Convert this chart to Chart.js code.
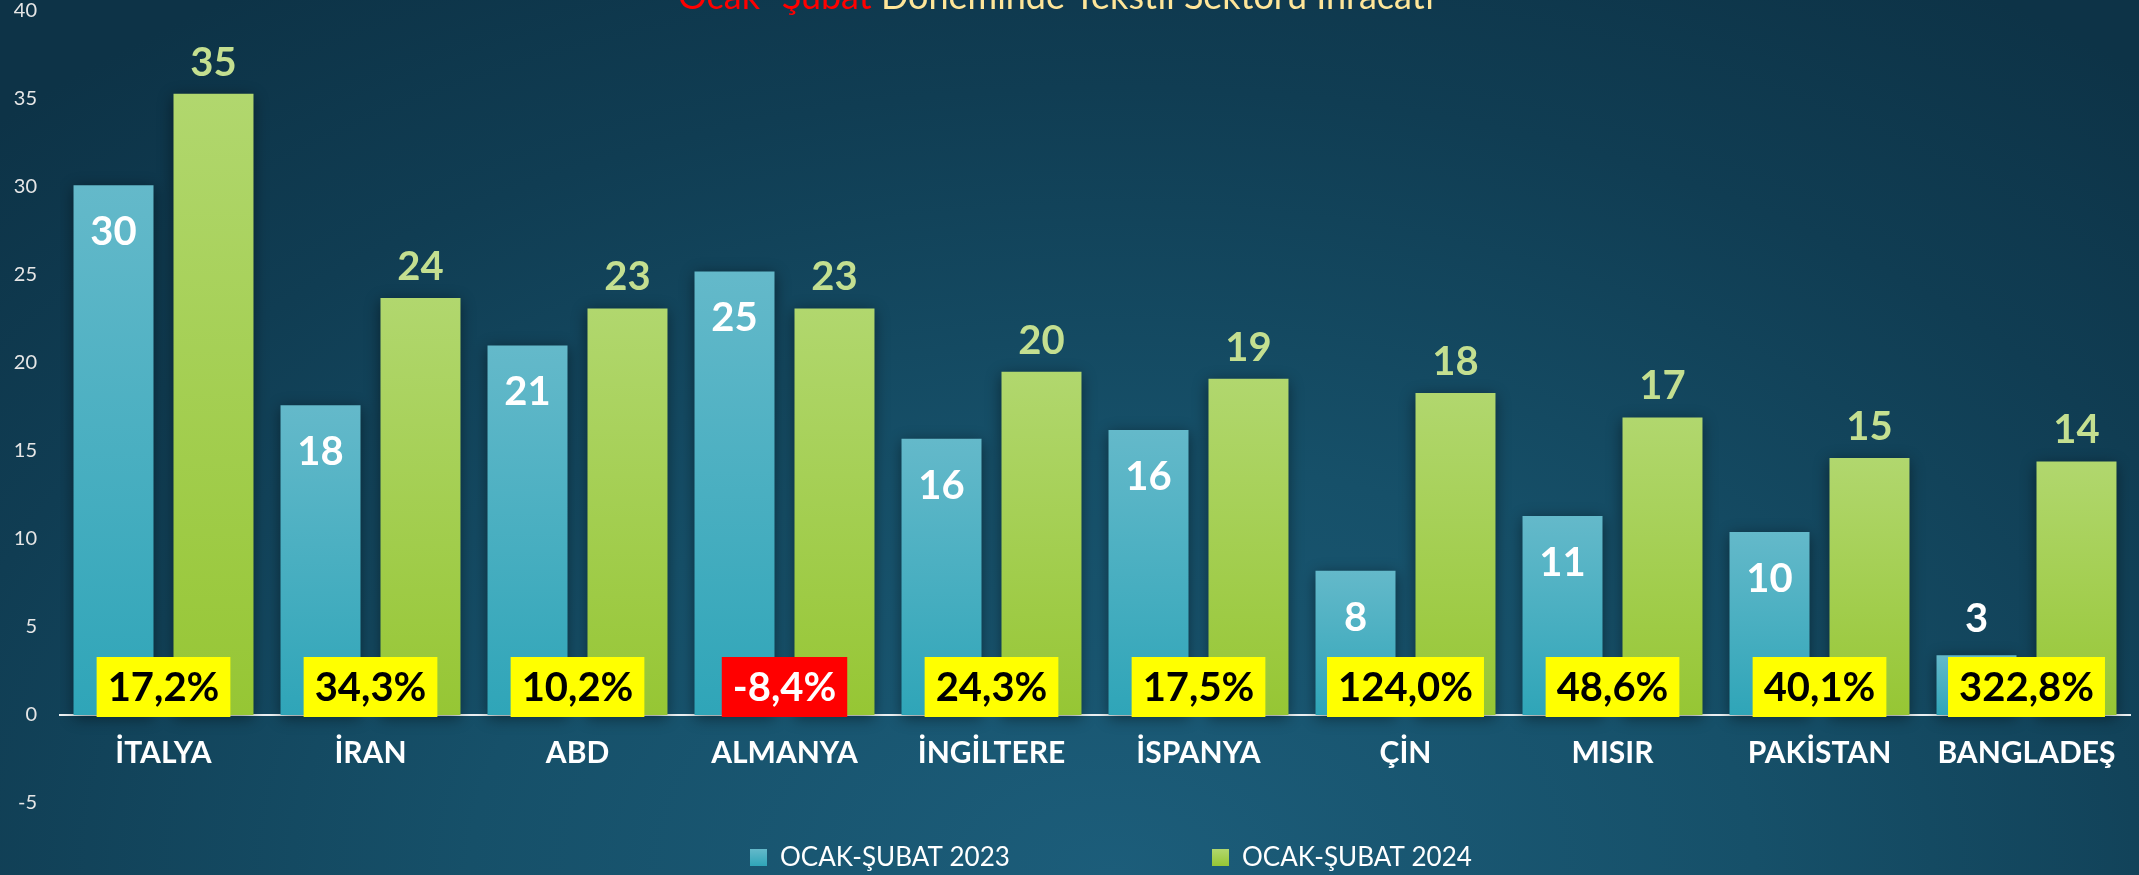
<!DOCTYPE html>
<html lang="tr">
<head>
<meta charset="utf-8">
<title>Ocak-Şubat Döneminde Tekstil Sektörü İhracatı</title>
<script src="https://cdn.jsdelivr.net/npm/chart.js@4.4.1/dist/chart.umd.min.js"></script>
<style>
  html, body { margin: 0; padding: 0; }
  body {
    width: 2139px; height: 875px; overflow: hidden;
    background: radial-gradient(ellipse 75% 120% at 52% 100%, #1c5d7a 0%, #165069 40%, #103d53 75%, #0d3347 100%);
  }
  #wrap { position: relative; width: 2139px; height: 875px; overflow: hidden; }
  /* canvas is a bit taller and pulled up so the plot top lands near the page edge */
  #exportChart { position: absolute; left: 0; top: -24px; }
</style>
</head>
<body>
<div id="wrap"><canvas id="exportChart" width="2139" height="899"></canvas></div>
<script>
// --- data ---
const countries   = ['İTALYA', 'İRAN', 'ABD', 'ALMANYA', 'İNGİLTERE', 'İSPANYA', 'ÇİN', 'MISIR', 'PAKİSTAN', 'BANGLADEŞ'];
const exports2023 = [30.1, 17.6, 21.0, 25.2, 15.7, 16.2, 8.2, 11.3, 10.4, 3.4];
const exports2024 = [35.3, 23.7, 23.1, 23.1, 19.5, 19.1, 18.3, 16.9, 14.6, 14.4];
const changePct   = [17.2, 34.3, 10.2, -8.4, 24.3, 17.5, 124.0, 48.6, 40.1, 322.8];
const seriesNames = ['OCAK-ŞUBAT 2023', 'OCAK-ŞUBAT 2024'];
const yMin = -5, yMax = 40, yStep = 5;

const BLUE  = ['#64b9ca', '#2fa5b8'];
const GREEN = ['#b1d76e', '#96c634'];
const SHIFT = 24; // canvas offset, see css

// per-bar vertical gradient (light on top, darker at the base)
function barGradient(cols) {
  return (ctx) => {
    const chart = ctx.chart;
    if (!chart.chartArea || ctx.type !== 'data') return cols[1];
    const y = chart.scales.y;
    const top = y.getPixelForValue(ctx.parsed.y);
    const base = y.getPixelForValue(0);
    const g = chart.ctx.createLinearGradient(0, top, 0, base);
    g.addColorStop(0, cols[0]);
    g.addColorStop(1, cols[1]);
    return g;
  };
}

// soft dark shadow behind the bars
const barShadow = {
  id: 'barShadow',
  beforeDatasetsDraw(chart) {
    const c = chart.ctx;
    c.save();
    c.shadowColor = 'rgba(0,0,0,0.45)';
    c.shadowBlur = 14;
    c.shadowOffsetX = 0;
    c.shadowOffsetY = 3;
  },
  afterDatasetsDraw(chart) {
    chart.ctx.restore();
  }
};

// value labels, % change boxes, title and legend
const overlay = {
  id: 'overlay',
  afterDraw(chart) {
    const c = chart.ctx;
    const xs = chart.scales.x, ys = chart.scales.y;
    c.save();

    // values
    c.textAlign = 'center';
    c.textBaseline = 'middle';
    c.font = 'bold 40px Lato';
    c.fillStyle = '#ffffff';
    chart.getDatasetMeta(0).data.forEach((bar, i) => {
      const h = bar.base - bar.y;
      const ty = h > 80 ? bar.y + 47 : bar.y - 36;
      c.fillText(String(Math.round(exports2023[i])), bar.x, ty);
    });
    c.fillStyle = '#c4df90';
    chart.getDatasetMeta(1).data.forEach((bar, i) => {
      c.fillText(String(Math.round(exports2024[i])), bar.x, bar.y - 31);
    });

    // % change boxes sitting on the zero line
    const zero = ys.getPixelForValue(0);
    c.font = 'bold 40px Lato';
    changePct.forEach((p, i) => {
      const txt = p.toFixed(1).replace('.', ',') + '%';
      const cx = xs.getPixelForValue(i);
      const w = c.measureText(txt).width + 22;
      const neg = p < 0;
      c.fillStyle = neg ? '#ff0000' : '#ffff00';
      c.fillRect(cx - w / 2, zero - 58, w, 60);
      c.fillStyle = neg ? '#ffffff' : '#000000';
      c.fillText(txt, cx, zero - 27);
    });

    // title (cut off at the top edge, as in the original)
    c.textAlign = 'left';
    c.textBaseline = 'alphabetic';
    c.font = '36px Lato';
    const t1 = 'Ocak- Şubat', t2 = ' Döneminde Tekstil Sektörü İhracatı';
    c.fillStyle = '#ff0000';
    c.fillText(t1, 678, 9 + SHIFT);
    c.fillStyle = '#ffe699';
    c.fillText(t2, 678 + c.measureText(t1).width, 9 + SHIFT);

    // legend
    c.font = '26px Lato';
    c.textBaseline = 'middle';
    const legendX = [750, 1212];
    const ly = 849 + SHIFT;
    [BLUE, GREEN].forEach((cols, k) => {
      const g = c.createLinearGradient(0, ly, 0, ly + 17);
      g.addColorStop(0, cols[0]);
      g.addColorStop(1, cols[1]);
      c.fillStyle = g;
      c.fillRect(legendX[k], ly, 17, 17);
      c.fillStyle = '#ffffff';
      c.fillText(seriesNames[k], legendX[k] + 30, ly + 9);
    });

    c.restore();
  }
};

new Chart(document.getElementById('exportChart'), {
  type: 'bar',
  data: {
    labels: countries,
    datasets: [
      { label: seriesNames[0], data: exports2023, backgroundColor: barGradient(BLUE) },
      { label: seriesNames[1], data: exports2024, backgroundColor: barGradient(GREEN) }
    ]
  },
  options: {
    responsive: false,
    animation: false,
    devicePixelRatio: 1,
    layout: { padding: { top: 0, right: 9, bottom: 72, left: 0 } },
    datasets: { bar: { categoryPercentage: 0.966, barPercentage: 0.8 } },
    plugins: {
      legend: { display: false },
      tooltip: { enabled: false },
      title: { display: false }
    },
    scales: {
      x: {
        position: { y: 0 },
        z: 1,
        grid: { display: false, drawTicks: false },
        border: { display: true, color: '#eef3f5', width: 2 },
        ticks: { color: '#ffffff', padding: 20, font: { family: 'Lato', size: 30, weight: 'bold' } }
      },
      y: {
        min: yMin,
        max: yMax,
        afterFit: (s) => { s.width = 60; },
        grid: { display: false, drawTicks: false },
        border: { display: false },
        ticks: { stepSize: yStep, color: '#e6e6e6', padding: 23, font: { family: 'Lato', size: 20 } }
      }
    }
  },
  plugins: [barShadow, overlay]
});
</script>
</body>
</html>
